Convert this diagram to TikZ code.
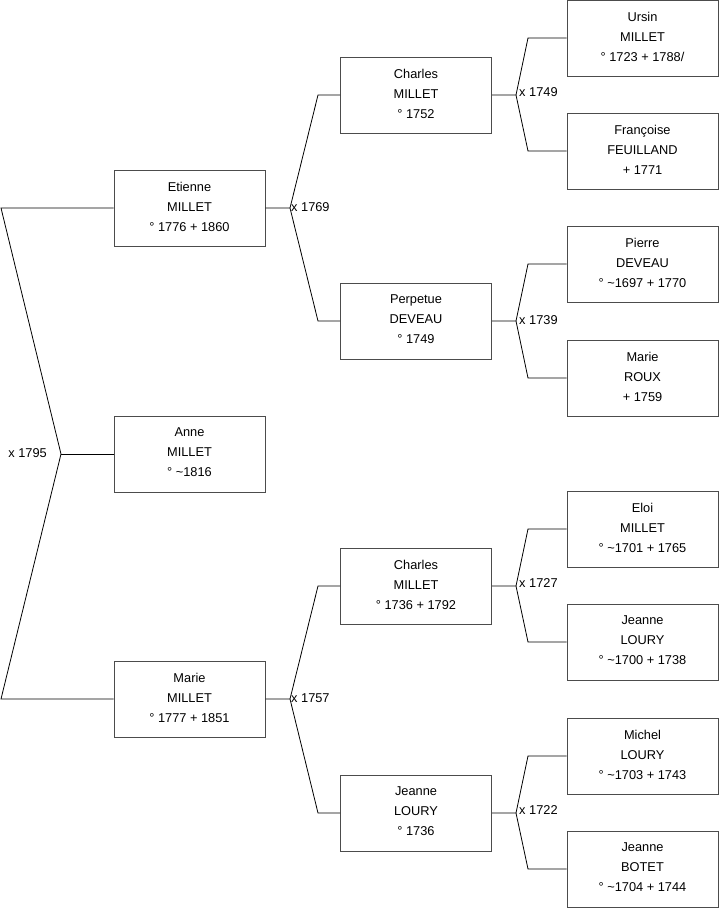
\documentclass[tikz,border=0pt]{standalone}
\usepackage{fontspec}
\setmainfont{Liberation Sans}
\newcommand{\dn}{\rule[-3pt]{0pt}{3pt}}
\begin{document}
\begin{tikzpicture}[x=1pt,y=-1pt,
  person/.style={draw=black!70, line width=1pt, fill=white, minimum width=151pt, minimum height=76pt,
    inner sep=0pt, align=center, font=\fontsize{12.8}{20}\selectfont},
  conn/.style={draw=black, line width=0.8pt},
  lbl/.style={inner sep=1pt, font=\fontsize{12.8}{14}\selectfont}]
\useasboundingbox (0,0) rectangle (719,908);
% generation 1
\node[person] (etienne) at (189.5,208) {Etienne\\MILLET\\° 1776 + 1860\dn};
\node[person] (anne) at (189.5,454) {Anne\\MILLET\\° \char`~1816\dn};
\node[person] (marie) at (189.5,699) {Marie\\MILLET\\° 1777 + 1851\dn};
% generation 2
\node[person] (charles) at (416,95) {Charles\\MILLET\\° 1752\dn};
\node[person] (perpetue) at (416,321) {Perpetue\\DEVEAU\\° 1749\dn};
\node[person] (charles2) at (416,586) {Charles\\MILLET\\° 1736 + 1792\dn};
\node[person] (jeanne) at (416,813) {Jeanne\\LOURY\\° 1736\dn};
% generation 3
\node[person] (ursin) at (642.5,38) {Ursin\\MILLET\\° 1723 + 1788/\dn};
\node[person] (francoise) at (642.5,151) {Françoise\\FEUILLAND\\+ 1771\dn};
\node[person] (pierre) at (642.5,264) {Pierre\\DEVEAU\\° \char`~1697 + 1770\dn};
\node[person] (marieroux) at (642.5,378) {Marie\\ROUX\\+ 1759\dn};
\node[person] (eloi) at (642.5,529) {Eloi\\MILLET\\° \char`~1701 + 1765\dn};
\node[person] (jeanneloury) at (642.5,642) {Jeanne\\LOURY\\° \char`~1700 + 1738\dn};
\node[person] (michel) at (642.5,756) {Michel\\LOURY\\° \char`~1703 + 1743\dn};
\node[person] (jeannebotet) at (642.5,869) {Jeanne\\BOTET\\° \char`~1704 + 1744\dn};

% marriage 1795
\coordinate (a1) at (1,208);
\coordinate (v1) at (61,454);
\coordinate (b1) at (1,699);
\draw[conn] (etienne.west) -- (a1) -- (v1) -- (b1) -- (marie.west);
\draw[conn] (v1) -- (anne.west);
\node[lbl, anchor=east] (m1795) at ([xshift=-13pt,yshift=1pt]v1) {x 1795};

% marriage 1769
\coordinate (v2) at (290,208);
\coordinate (a2) at (318,95);
\coordinate (b2) at (318,321);
\draw[conn] (etienne.east) -- (v2) -- (a2) -- (charles.west);
\draw[conn] (v2) -- (b2) -- (perpetue.west);
\node[lbl, anchor=west] (m1769) at ([yshift=1pt]v2) {x 1769};

% marriage 1757
\coordinate (v3) at (290,699);
\coordinate (a3) at (318,586);
\coordinate (b3) at (318,813);
\draw[conn] (marie.east) -- (v3) -- (a3) -- (charles2.west);
\draw[conn] (v3) -- (b3) -- (jeanne.west);
\node[lbl, anchor=west] (m1757) at ([yshift=1pt]v3) {x 1757};

% marriage 1749
\coordinate (v4) at (516,95);
\coordinate (a4) at (528,38);
\coordinate (b4) at (528,151);
\draw[conn] (charles.east) -- (v4) -- (a4) -- (ursin.west);
\draw[conn] (v4) -- (b4) -- (francoise.west);
\node[lbl, anchor=west] (m1749) at ([xshift=2pt,yshift=3pt]v4) {x 1749};

% marriage 1739
\coordinate (v5) at (516,321);
\coordinate (a5) at (528,264);
\coordinate (b5) at (528,378);
\draw[conn] (perpetue.east) -- (v5) -- (a5) -- (pierre.west);
\draw[conn] (v5) -- (b5) -- (marieroux.west);
\node[lbl, anchor=west] (m1739) at ([xshift=2pt,yshift=1pt]v5) {x 1739};

% marriage 1727
\coordinate (v6) at (516,586);
\coordinate (a6) at (528,529);
\coordinate (b6) at (528,642);
\draw[conn] (charles2.east) -- (v6) -- (a6) -- (eloi.west);
\draw[conn] (v6) -- (b6) -- (jeanneloury.west);
\node[lbl, anchor=west] (m1727) at ([xshift=2pt,yshift=3pt]v6) {x 1727};

% marriage 1722
\coordinate (v7) at (516,813);
\coordinate (a7) at (528,756);
\coordinate (b7) at (528,869);
\draw[conn] (jeanne.east) -- (v7) -- (a7) -- (michel.west);
\draw[conn] (v7) -- (b7) -- (jeannebotet.west);
\node[lbl, anchor=west] (m1722) at ([xshift=2pt,yshift=3pt]v7) {x 1722};
\end{tikzpicture}
\end{document}
